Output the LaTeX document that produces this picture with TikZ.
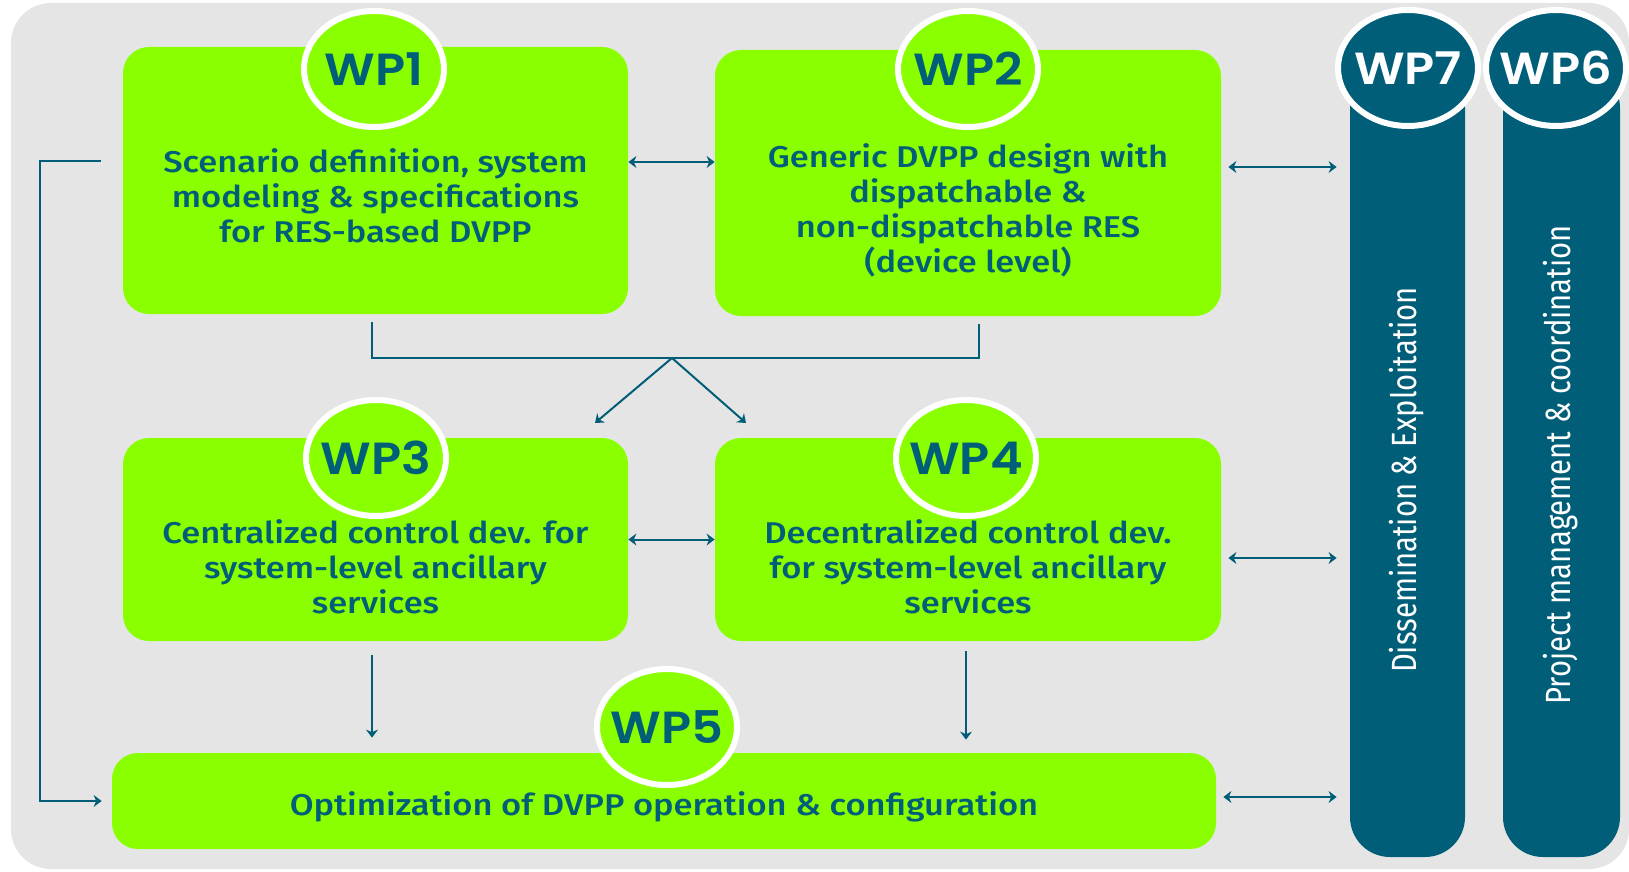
\documentclass[tikz,border=0pt]{standalone}
\usepackage{fontspec}
\setmainfont{Fira Sans}[FakeStretch=1.15,BoldFont={Fira Sans Medium}]
\newfontfamily\colfont{Fira Sans}
\newfontfamily\wpfont{Poppins SemiBold}[FakeStretch=1.1]
\usetikzlibrary{arrows.meta,shapes.geometric}
\definecolor{wpgreen}{RGB}{138,255,0}
\definecolor{wpteal}{RGB}{0,94,121}
\definecolor{bggrey}{RGB}{229,229,229}
\tikzset{
>={Stealth[length=4pt,width=6pt]},
wpbox/.style={fill=wpgreen,rounded corners=13pt,inner sep=0pt},
wptext/.style={text=wpteal,align=center,inner sep=0pt,font=\bfseries\fontsize{15}{17.5}\selectfont},
badge/.style={ellipse,draw=white,line width=3pt,minimum width=70pt,minimum height=58pt,inner xsep=-6pt,inner ysep=0pt,font=\wpfont\fontsize{22.5}{23}\selectfont},
greenbadge/.style={badge,fill=wpgreen,text=wpteal},
tealbadge/.style={badge,fill=wpteal,text=white},
wpcolumn/.style={fill=wpteal,rounded corners=20pt,inner sep=0pt},
coltext/.style={rotate=90,text=white,inner sep=0pt,font=\colfont\fontsize{14.6}{18}\selectfont},
link/.style={draw=wpteal,line width=1pt},
sidelink/.style={link,<->,shorten <=3.5pt,shorten >=6.5pt}
}

\begin{document}
\begin{tikzpicture}[x=0.5pt,y=-0.5pt]
\useasboundingbox (0,0) rectangle (1629,872);
\fill[bggrey,rounded corners=20pt] (11,3) rectangle (1629,869);

% work package boxes
\node[wpbox,minimum width=252.5pt,minimum height=133.5pt] (wp1) at (375.5,180.5) {};
\node[wpbox,minimum width=253pt,minimum height=133pt] (wp2) at (968,183) {};
\node[wpbox,minimum width=252.5pt,minimum height=101.5pt] (wp3) at (375.5,539.5) {};
\node[wpbox,minimum width=253pt,minimum height=101.5pt] (wp4) at (968,539.5) {};
\node[wpbox,minimum width=552pt,minimum height=48pt] (wp5) at (664,801) {};

\node[wptext] (wp1t) at ([yshift=-7.5pt]wp1.center) {Scenario definition, system\\modeling \& specifications\\for RES-based DVPP};
\node[wptext] (wp2t) at ([yshift=-13.75pt]wp2.center) {Generic DVPP design with\\dispatchable \&\\non-dispatchable RES\\(device level)};
\node[wptext] (wp3t) at ([yshift=-13.5pt]wp3.center) {Centralized control dev. for\\system-level ancillary\\services};
\node[wptext] (wp4t) at ([yshift=-13.5pt]wp4.center) {Decentralized control dev.\\for system-level ancillary\\services};
\node[wptext] (wp5t) at ([yshift=-3pt]wp5.center) {Optimization of DVPP operation \& configuration};

% cross-cutting work packages
\node[wpcolumn,minimum width=57.5pt,minimum height=394.5pt] (wp7col) at (1407.5,462.5) {};
\node[wpcolumn,minimum width=58.5pt,minimum height=394.5pt] (wp6col) at (1561.5,462.5) {};
\node[coltext] (wp7lbl) at (1407,480) {\scalebox{1}[1.2]{Dissemination \& Exploitation}};
\node[coltext] (wp6lbl) at (1561,465) {\scalebox{1}[1.2]{Project management \& coordination}};

% badges
\node[greenbadge] (wp1c) at (374,69) {WP1};
\node[greenbadge] (wp2c) at (968,69) {WP2};
\node[greenbadge] (wp3c) at (376,458) {WP3};
\node[greenbadge] (wp4c) at (966,458) {WP4};
\node[greenbadge] (wp5c) at (667,727) {WP5};
\node[tealbadge] (wp7c) at (1408,68) {WP7};
\node[tealbadge] (wp6c) at (1556,68) {WP6};

% links
\draw[link,<->] ([yshift=9.25pt]wp1.east) -- ([yshift=9.25pt]wp1.east -| wp2.west);
\draw[link,<->] (wp3.east) -- (wp4.west);
\draw[sidelink] ([yshift=8pt]wp2.east) -- ([yshift=8pt]wp2.east -| wp7col.west);
\draw[sidelink] ([yshift=-9.25pt]wp4.east) -- ([yshift=-9.25pt]wp4.east -| wp7col.west);
\draw[sidelink] ([yshift=2pt]wp5.east) -- ([yshift=2pt]wp5.east -| wp7col.west);

\coordinate (split) at (672,358);
\draw[link] ([xshift=-1.75pt,yshift=-4pt]wp1.south) |- (split) -| ([xshift=5.5pt,yshift=-4pt]wp2.south);
\draw[link,->] (split) -- ++(-77,65);
\draw[link,->] (split) -- ++(74,65);

\draw[link,->,shorten <=7pt,shorten >=7.5pt] ([xshift=-1.75pt]wp3.south) -- ([xshift=-1.75pt]wp3.south |- wp5.north);
\draw[link,->,shorten <=5pt,shorten >=6.5pt] ([xshift=-1pt]wp4.south) -- ([xshift=-1pt]wp4.south |- wp5.north);

\draw[link,->] ([xshift=-11pt,yshift=9.75pt]wp1.west) -- ++(-30.5pt,0) |- ([xshift=-5pt]wp5.west);
\end{tikzpicture}
\end{document}
